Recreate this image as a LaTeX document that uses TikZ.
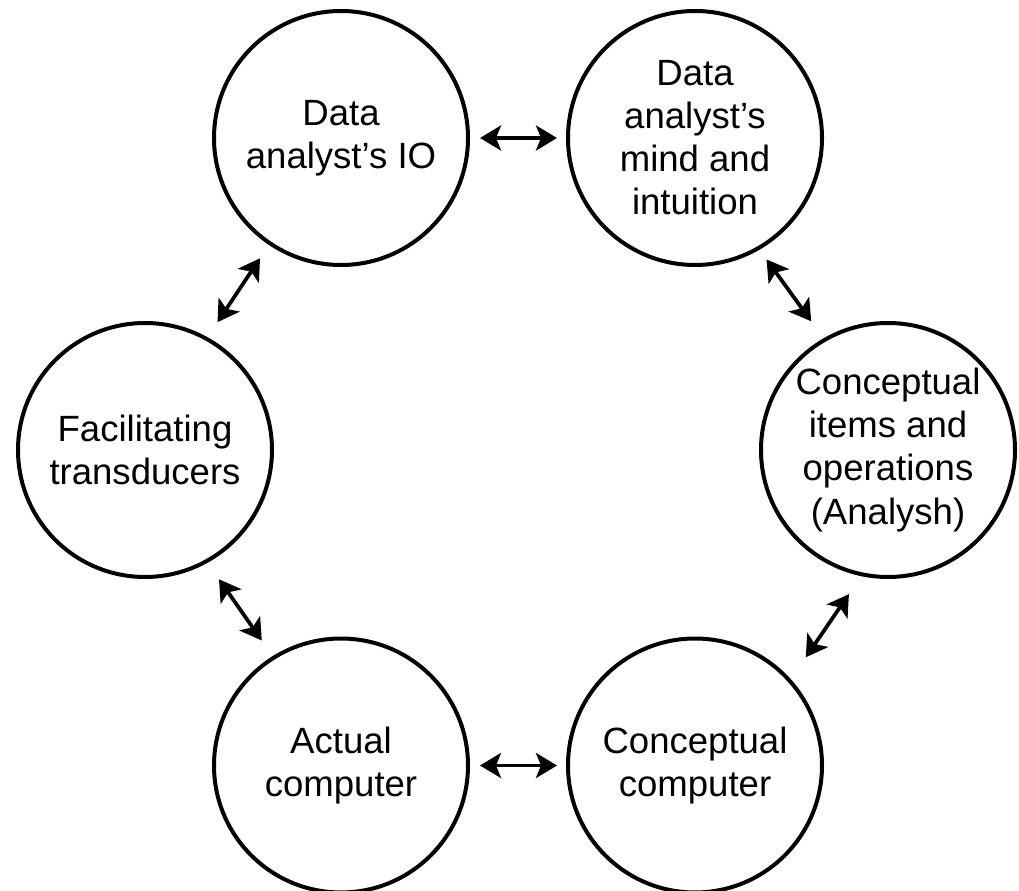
\documentclass[tikz,border=0pt]{standalone}
\usepackage{fontspec}
\setmainfont{Liberation Sans}
\usepackage{tikz}
\usetikzlibrary{arrows.meta}

\begin{document}
\begin{tikzpicture}[
    bubble/.style={draw, circle, line width=0.08cm, minimum size=5.08cm, inner sep=0pt, align=center, font=\fontsize{20.8pt}{24.5pt}\selectfont},
    link/.style={{Stealth[length=0.42cm,width=0.5cm,inset=0.1cm]}-{Stealth[length=0.42cm,width=0.5cm,inset=0.1cm]}, line width=0.075cm}
]
    \useasboundingbox (0,0) rectangle (20.38,17.8);
    \node[bubble] (io) at (6.82,15.04) {Data\\analyst’s IO};
    \node[bubble] (mind) at (13.90,15.04) {Data\\analyst’s\\mind and\\intuition};
    \node[bubble] (items) at (17.76,8.80) {Conceptual\\items and\\operations\\(Analysh)};
    \node[bubble] (transd) at (2.90,8.80) {Facilitating\\transducers};
    \node[bubble] (actual) at (6.82,2.49) {Actual\\computer};
    \node[bubble] (concomp) at (13.90,2.49) {Conceptual\\computer};
    \draw[link, shorten <=0.2cm, shorten >=0.18cm] (io.east) -- (mind.west);
    \draw[link, shorten <=0.2cm, shorten >=0.18cm] (actual.east) -- (concomp.west);
    \draw[link, shorten <=0.32cm, shorten >=0.36cm] (io.236.5) -- (transd.61.2);
    \draw[link, shorten <=0.24cm, shorten >=0.42cm] (mind.300.8) -- (items.120.8);
    \draw[link, shorten <=0.4cm, shorten >=0.38cm] (transd.299) -- (actual.122.7);
    \draw[link, shorten <=0.435cm, shorten >=0.53cm] (items.258.2) -- (concomp.42.9);
\end{tikzpicture}
\end{document}
